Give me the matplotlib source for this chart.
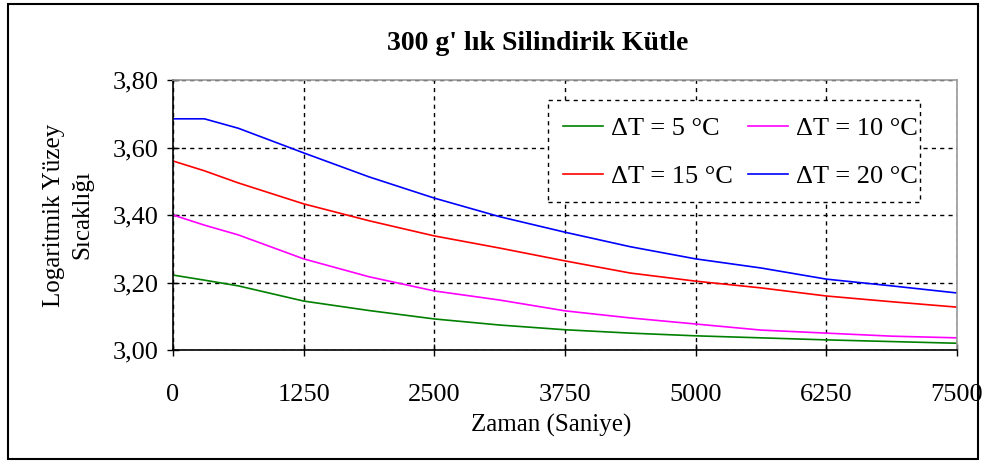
import matplotlib
matplotlib.use("Agg")
import matplotlib.pyplot as plt
from matplotlib.patches import Rectangle
from matplotlib.ticker import FuncFormatter

plt.rcParams['font.family'] = ['Liberation Serif', 'DejaVu Serif']

time_s = [0, 300, 625, 1250, 1875, 2500, 3125, 3750, 4375, 5000, 5625, 6250, 6875, 7500]
dt5 = [3.222, 3.207, 3.190, 3.145, 3.117, 3.092, 3.074, 3.060, 3.050, 3.042, 3.036, 3.030, 3.025, 3.020]
dt10 = [3.400, 3.370, 3.341, 3.270, 3.217, 3.175, 3.148, 3.116, 3.095, 3.077, 3.059, 3.050, 3.041, 3.036]
dt15 = [3.560, 3.531, 3.495, 3.433, 3.383, 3.338, 3.302, 3.264, 3.228, 3.204, 3.184, 3.160, 3.143, 3.127]
dt20 = [3.685, 3.685, 3.657, 3.584, 3.513, 3.450, 3.395, 3.349, 3.306, 3.270, 3.243, 3.210, 3.190, 3.169]

labels = ["ΔT = 5 °C", "ΔT = 10 °C", "ΔT = 15 °C", "ΔT = 20 °C"]
colors = ["#008000", "#FF00FF", "#FF0000", "#0000FF"]
xticks = [0, 1250, 2500, 3750, 5000, 6250, 7500]
yticks = [3.00, 3.20, 3.40, 3.60, 3.80]

W, H = 985, 461
fig = plt.figure(figsize=(W / 100, H / 100), dpi=100)
fig.patch.set_facecolor("white")
fig.add_artist(Rectangle((8 / W, 2 / H), 970 / W, 455 / H, transform=fig.transFigure,
                         fill=False, edgecolor="black", linewidth=1.5))

ax = fig.add_axes([173 / W, (H - 350) / H, (957 - 173) / W, 270 / H])
handles = []
for series, lab, c in zip([dt5, dt10, dt15, dt20], labels, colors):
    h, = ax.plot(time_s, series, color=c, linewidth=1.2, label=lab)
    handles.append(h)

ax.set_xlim(0, 7500)
ax.set_ylim(3.0, 3.8)
ax.set_xticks(xticks)
ax.set_yticks(yticks)
ax.yaxis.set_major_formatter(FuncFormatter(lambda v, p: f"{v:.2f}".replace(".", ",")))
ax.tick_params(axis="both", direction="inout", length=9, width=1, labelsize=19, colors="black")
ax.tick_params(axis="x", pad=20)
ax.tick_params(axis="y", pad=6)
ax.grid(True, color="black", linestyle=(0, (3, 3)), linewidth=1)
ax.set_axisbelow(True)
for s in ["top", "right"]:
    ax.spines[s].set_color("#999999")
    ax.spines[s].set_linewidth(1.2)
for s in ["left", "bottom"]:
    ax.spines[s].set_color("black")
    ax.spines[s].set_linewidth(1.2)

ax.set_xlabel("Zaman (Saniye)", fontsize=18)
ax.xaxis.set_label_coords(0.483, -0.235)
ax.set_ylabel("Logaritmik Yüzey\nSıcaklığı", fontsize=18, linespacing=1.35)
ax.yaxis.set_label_coords(-0.102, 0.5)

fig.text(538 / W, 1 - 44 / H, "300 g' lık Silindirik Kütle", fontsize=20, fontweight="bold",
         ha="center", va="center")

# legend box (dashed frame) drawn as a patch behind the legend entries
ax.add_patch(Rectangle((0.478, 0.548), 0.475, 0.378, transform=ax.transAxes,
                       facecolor="white", edgecolor="black", linewidth=1,
                       linestyle=(0, (3, 3)), zorder=4))

order = [0, 2, 1, 3]
leg = ax.legend([handles[i] for i in order], [labels[i] for i in order],
                ncol=2, loc="upper right", bbox_to_anchor=(0.950, 0.865), borderaxespad=0,
                fontsize=19, frameon=False, handlelength=1.5,
                handletextpad=0.3, columnspacing=0.6, borderpad=0, labelspacing=0.95)
leg.set_zorder(5)

fig.savefig("out.png", dpi=100, facecolor="white")
